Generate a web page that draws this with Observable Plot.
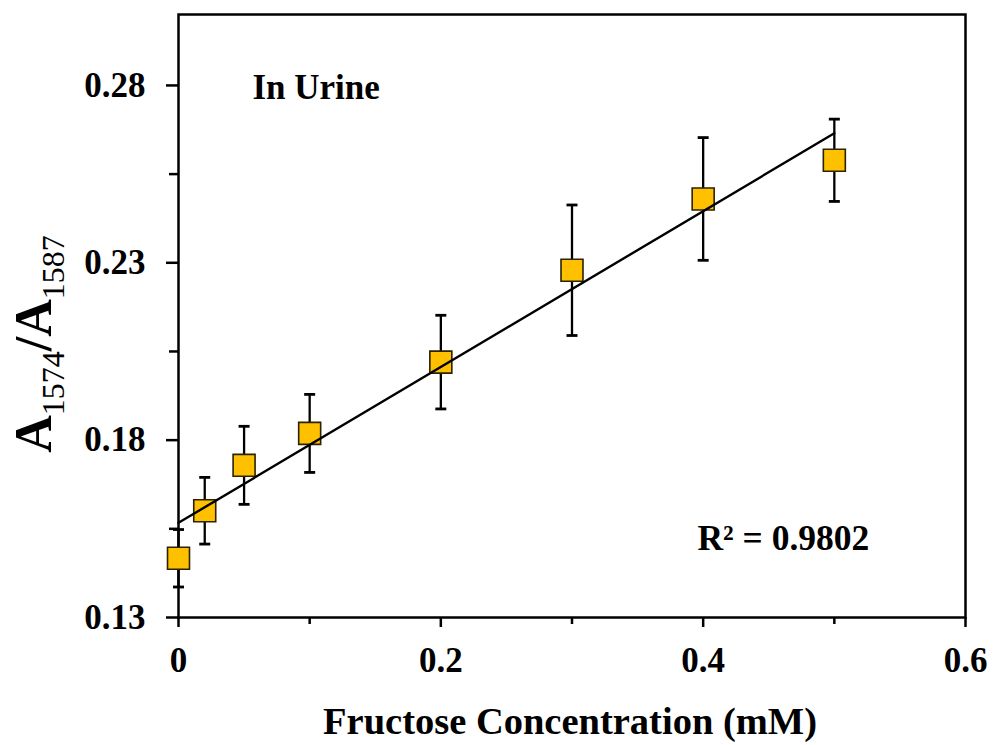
<!DOCTYPE html>
<html><head><meta charset="utf-8">
<script src="https://cdn.jsdelivr.net/npm/d3@7"></script>
<script src="https://cdn.jsdelivr.net/npm/@observablehq/plot@0.6"></script>
<style>body{margin:0;background:#fff} #chart{width:994px;height:745px}</style>
</head><body><div id="chart"></div>
<script>
// ---- data ----
const concentrations = [0, 0.02, 0.05, 0.1, 0.2, 0.3, 0.4, 0.5];
const ratios = [0.1467, 0.1601, 0.1729, 0.1819, 0.2020, 0.2279, 0.2480, 0.2589];
const errors = [0.0081, 0.0094, 0.0110, 0.0110, 0.0132, 0.0184, 0.0173, 0.0116];
const xTickValues = [0, 0.2, 0.4, 0.6];
const xMinorTicks = [0.1, 0.3, 0.5];
const yTickValues = [0.13, 0.18, 0.23, 0.28];
const yMinorTicks = [0.155, 0.205, 0.255];
const annotationLabel = "In Urine";
const r2Label = "R² = 0.9802";
const xLabel = "Fructose Concentration (mM)";
const yLabel = "A1574/A1587";
const yLabelParts = [["A", false], ["1574", true], ["/A", false], ["1587", true]];

const data = concentrations.map((x, i) => ({x, y: ratios[i], lo: ratios[i] - errors[i], hi: ratios[i] + errors[i]}));

const cap = {draw(ctx) { ctx.moveTo(-5.5, 0); ctx.lineTo(5.5, 0); }};
const serif = "'Liberation Serif', 'Times New Roman', Times, serif";

const chart = Plot.plot({
  width: 994, height: 745,
  marginLeft: 178, marginRight: 29, marginTop: 14, marginBottom: 128,
  style: {fontFamily: serif, background: "white", color: "black", overflow: "visible"},
  x: {domain: [0, 0.6]},
  y: {domain: [0.13, 0.30]},
  marks: [
    Plot.axisX(xMinorTicks, {tickSize: 7, strokeWidth: 2.5, tickFormat: () => "", label: null}),
    Plot.axisX(xTickValues, {tickSize: 10, tickPadding: 20, strokeWidth: 2.5, fontSize: 35, fontWeight: "bold",
      tickFormat: d => d === 0 ? "0" : d.toFixed(1), label: null}),
    Plot.axisY(yMinorTicks, {tickSize: 9, strokeWidth: 2.5, tickFormat: () => "", label: null}),
    Plot.axisY(yTickValues, {tickSize: 12, tickPadding: 21, strokeWidth: 2.5, fontSize: 35, fontWeight: "bold",
      tickFormat: d => d.toFixed(2), label: null}),
    Plot.frame({stroke: "black", strokeWidth: 2.5}),
    Plot.ruleX(data, {x: "x", y1: "lo", y2: "hi", stroke: "black", strokeWidth: 2.3}),
    Plot.dot(data, {x: "x", y: "lo", symbol: cap, fill: "none", stroke: "black", strokeWidth: 2.8}),
    Plot.dot(data, {x: "x", y: "hi", symbol: cap, fill: "none", stroke: "black", strokeWidth: 2.8}),
    Plot.dot(data, {x: "x", y: "y", symbol: "square", r: 12.4, fill: "#FFC000", stroke: "#2a2200", strokeWidth: 1.6}),
    Plot.linearRegressionY(data, {x: "x", y: "y", ci: 0, stroke: "black", strokeWidth: 2.4}),
    Plot.text([annotationLabel], {x: 0.0564, y: 0.2763, text: d => d, textAnchor: "start", lineAnchor: "bottom",
      fontSize: 35, fontWeight: "bold"}),
    Plot.text([r2Label], {x: 0.3956, y: 0.1489, text: d => d, textAnchor: "start", lineAnchor: "bottom",
      fontSize: 35.5, fontWeight: "bold"}),
    Plot.text([xLabel], {frameAnchor: "bottom", text: d => d, textAnchor: "middle", lineAnchor: "bottom",
      dy: 116, dx: -2, fontSize: 38.5, fontWeight: "bold"}),
    Plot.text([yLabel], {frameAnchor: "left", text: d => d, rotate: -90, textAnchor: "middle", lineAnchor: "bottom",
      dx: -128, dy: 28, fontSize: 52, fontWeight: "bold"})
  ]
});

// rebuild the y label with subscripts
d3.select(chart).selectAll("text").filter(function () { return this.textContent === yLabel; }).each(function () {
  const t = d3.select(this);
  t.text(null).attr("y", null);
  let sub = false;
  for (const [s, isSub] of yLabelParts) {
    const ts = t.append("tspan").text(s);
    if (isSub && !sub) ts.attr("dy", 13);
    if (!isSub && sub) ts.attr("dy", -13);
    ts.attr("font-size", isSub ? 32 : 52).attr("font-weight", isSub ? "normal" : "bold");
    sub = isSub;
  }
});

document.getElementById("chart").appendChild(chart);
</script>
</body></html>
